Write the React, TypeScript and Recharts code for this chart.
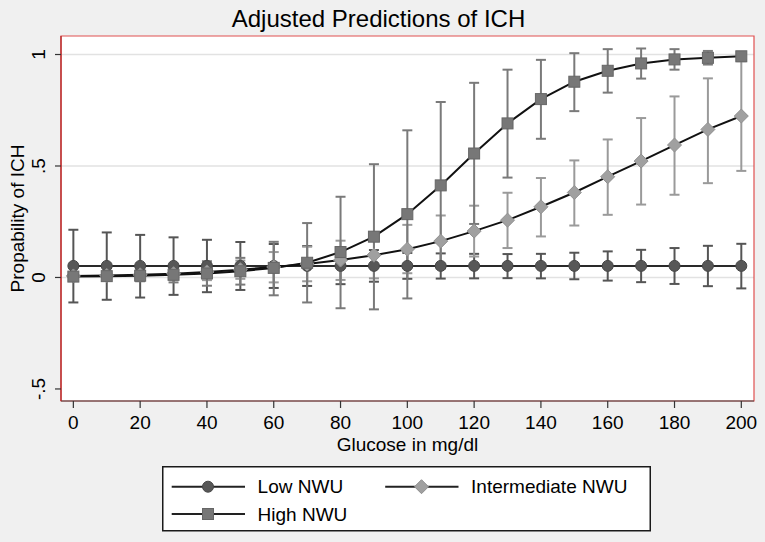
import React from 'react';
import {
  ComposedChart,
  Line,
  XAxis,
  YAxis,
  CartesianGrid,
  ErrorBar,
  Legend,
  ReferenceArea,
  Label,
} from 'recharts';

// ---- data ----
const glucose = [0, 10, 20, 30, 40, 50, 60, 70, 80, 90, 100, 110, 120, 130, 140, 150, 160, 170, 180, 190, 200];

const lowMean = [0.052, 0.052, 0.052, 0.052, 0.052, 0.052, 0.052, 0.052, 0.052, 0.052, 0.052, 0.052, 0.052, 0.052, 0.052, 0.052, 0.052, 0.052, 0.052, 0.052, 0.052];
const lowLower = [-0.112, -0.1, -0.09, -0.078, -0.066, -0.056, -0.047, -0.038, -0.03, -0.019, -0.006, -0.005, -0.004, -0.003, -0.004, -0.008, -0.014, -0.021, -0.029, -0.039, -0.049];
const lowUpper = [0.214, 0.202, 0.191, 0.18, 0.169, 0.159, 0.15, 0.141, 0.134, 0.123, 0.11, 0.108, 0.106, 0.105, 0.106, 0.111, 0.117, 0.124, 0.132, 0.142, 0.151];

const intMean = [0.007, 0.009, 0.012, 0.017, 0.025, 0.035, 0.047, 0.06, 0.078, 0.1, 0.127, 0.163, 0.208, 0.257, 0.317, 0.381, 0.452, 0.522, 0.594, 0.664, 0.724];
const intLower = [-0.003, -0.004, -0.006, -0.01, -0.012, -0.006, -0.022, -0.017, -0.011, -0.004, 0.019, 0.047, 0.094, 0.132, 0.184, 0.233, 0.281, 0.327, 0.371, 0.423, 0.478];
const intUpper = [0.017, 0.022, 0.03, 0.044, 0.062, 0.076, 0.114, 0.138, 0.165, 0.204, 0.236, 0.278, 0.322, 0.38, 0.446, 0.525, 0.619, 0.715, 0.812, 0.893, 0.97];

const highMean = [0.004, 0.006, 0.008, 0.012, 0.018, 0.028, 0.043, 0.066, 0.114, 0.183, 0.284, 0.413, 0.556, 0.691, 0.8, 0.878, 0.927, 0.96, 0.978, 0.985, 0.992];
const highLower = [-0.012, -0.014, -0.017, -0.022, -0.037, -0.032, -0.08, -0.112, -0.138, -0.143, -0.094, 0.04, 0.24, 0.448, 0.622, 0.746, 0.829, 0.892, 0.932, 0.955, 0.975];
const highUpper = [0.02, 0.026, 0.033, 0.046, 0.073, 0.088, 0.16, 0.244, 0.362, 0.508, 0.66, 0.787, 0.873, 0.932, 0.976, 1.006, 1.024, 1.027, 1.024, 1.016, 1.006];

const xTicks = [0, 20, 40, 60, 80, 100, 120, 140, 160, 180, 200];
const yTicks = [-0.5, 0, 0.5, 1];
const yTickLabels = ['-.5', '0', '.5', '1'];
const gridValues = [0, 0.5, 1];

const xDomain = [-3.7, 203.8];
const yDomain = [-0.554, 1.083];

const series = [
  { key: 'low', name: 'Low NWU', marker: 'circle', fill: '#575757', stroke: '#474747', err: '#555555', line: '#2a2a2a' },
  { key: 'int', name: 'Intermediate NWU', marker: 'diamond', fill: '#a0a0a0', stroke: '#909090', err: '#9a9a9a', line: '#111111' },
  { key: 'high', name: 'High NWU', marker: 'square', fill: '#777777', stroke: '#666666', err: '#7a7a7a', line: '#111111' },
];

const data = glucose.map((g, i) => ({
  g,
  low: lowMean[i],
  lowErr: [lowMean[i] - lowLower[i], lowUpper[i] - lowMean[i]],
  int: intMean[i],
  intErr: [intMean[i] - intLower[i], intUpper[i] - intMean[i]],
  high: highMean[i],
  highErr: [highMean[i] - highLower[i], highUpper[i] - highMean[i]],
}));

const FONT = '"Liberation Sans", Arial, Helvetica, sans-serif';

function Marker({ type, cx, cy, fill, stroke }: any) {
  if (cx == null || cy == null) return null;
  if (type === 'circle') return <circle cx={cx} cy={cy} r={5.5} fill={fill} stroke={stroke} strokeWidth={1} />;
  if (type === 'square') return <rect x={cx - 5.5} y={cy - 5.5} width={11} height={11} fill={fill} stroke={stroke} strokeWidth={1} />;
  const h = 7;
  return <polygon points={`${cx},${cy - h} ${cx + h},${cy} ${cx},${cy + h} ${cx - h},${cy}`} fill={fill} stroke={stroke} strokeWidth={1} />;
}

const YTick = (props: any) => {
  const { x, y, payload } = props;
  const idx = yTicks.indexOf(payload.value);
  return (
    <text x={x} y={y} transform={`rotate(-90 ${x} ${y})`} textAnchor="middle" fontSize={19} fill="#000" fontFamily={FONT}>
      {idx >= 0 ? yTickLabels[idx] : String(payload.value)}
    </text>
  );
};

const legendItems = [
  { dx: 0, dy: 20.7 },
  { dx: 213.5, dy: 20.7 },
  { dx: 0, dy: 48 },
];

const renderLegend = () => (
  <svg width={489} height={66} style={{ display: 'block' }}>
    <rect x={0.75} y={0.75} width={487.5} height={64} fill="#ffffff" stroke="#1a1a1a" strokeWidth={1.5} />
    {series.map((s, i) => {
      const p = legendItems[i];
      return (
        <g key={s.key}>
          <line x1={p.dx + 9.7} x2={p.dx + 83} y1={p.dy} y2={p.dy} stroke="#222" strokeWidth={2} />
          <Marker type={s.marker} cx={p.dx + 46} cy={p.dy} fill={s.fill} stroke={s.stroke} />
          <text x={p.dx + 95.6} y={p.dy} dominantBaseline="central" fontSize={19} fill="#000" fontFamily={FONT}>
            {s.name}
          </text>
        </g>
      );
    })}
  </svg>
);

export default function App() {
  return (
    <div style={{ position: 'absolute', left: 0, top: 0, width: 765, height: 542, background: '#f0f0f0', fontFamily: FONT }}>
      <svg width={765} height={40} style={{ position: 'absolute', left: 0, top: 0 }}>
        <text x={378.5} y={27} textAnchor="middle" fontSize={24} fill="#000" fontFamily={FONT}>
          Adjusted Predictions of ICH
        </text>
      </svg>
      <ComposedChart
        width={765}
        height={542}
        data={data}
        margin={{ top: 36, right: 11, bottom: 0, left: 0 }}
        style={{ position: 'absolute', left: 0, top: 0 }}
      >
        <CartesianGrid
          horizontal={true}
          vertical={false}
          horizontalValues={gridValues}
          stroke="#e2e2e2"
          strokeWidth={1.5}
          fill="#ffffff"
          fillOpacity={1}
        />
        <XAxis
          dataKey="g"
          type="number"
          domain={xDomain}
          ticks={xTicks}
          allowDataOverflow
          height={141}
          tickSize={7}
          tickMargin={8}
          tickLine={{ stroke: '#333', strokeWidth: 1.2 }}
          axisLine={{ stroke: '#444', strokeWidth: 1.2 }}
          tick={{ fill: '#000', fontSize: 19, fontFamily: FONT }}
          interval={0}
        >
          <Label
            content={(p: any) => {
              const vb = p.viewBox;
              return (
                <text x={vb.x + vb.width / 2} y={vb.y + 50} textAnchor="middle" fontSize={19} fill="#000" fontFamily={FONT}>
                  Glucose in mg/dl
                </text>
              );
            }}
          />
        </XAxis>
        <YAxis
          type="number"
          domain={yDomain}
          ticks={yTicks}
          allowDataOverflow
          width={61}
          tickSize={6}
          tickMargin={10}
          tickLine={{ stroke: '#333', strokeWidth: 1.2 }}
          axisLine={{ stroke: '#b02020', strokeWidth: 1.2 }}
          tick={<YTick />}
          interval={0}
        >
          <Label
            content={(p: any) => {
              const vb = p.viewBox;
              const cx = vb.x + 23.5;
              const cy = vb.y + vb.height / 2;
              return (
                <text x={cx} y={cy} transform={`rotate(-90 ${cx} ${cy})`} textAnchor="middle" fontSize={19} fill="#000" fontFamily={FONT}>
                  Propability of ICH
                </text>
              );
            }}
          />
        </YAxis>
        <ReferenceArea
          x1={xDomain[0]}
          x2={xDomain[1]}
          y1={yDomain[0]}
          y2={yDomain[1]}
          fill="none"
          fillOpacity={0}
          stroke="#e05050"
          strokeWidth={1.2}
          ifOverflow="visible"
        />
        {series.map((s) => (
          <Line
            key={s.key}
            dataKey={s.key}
            name={s.name}
            type="linear"
            stroke={s.line}
            strokeWidth={2}
            isAnimationActive={false}
            dot={(props: any) => (
              <Marker key={`${s.key}-${props.index}`} type={s.marker} cx={props.cx} cy={props.cy} fill={s.fill} stroke={s.stroke} />
            )}
            activeDot={false}
            legendType="none"
          >
            <ErrorBar dataKey={`${s.key}Err`} width={5} stroke={s.err} strokeWidth={2} direction="y" isAnimationActive={false} />
          </Line>
        ))}
        <Legend
          layout="horizontal"
          verticalAlign="middle"
          align="center"
          content={renderLegend}
          wrapperStyle={{ left: 162, top: 466, width: 489, height: 66 }}
        />
      </ComposedChart>
    </div>
  );
}
